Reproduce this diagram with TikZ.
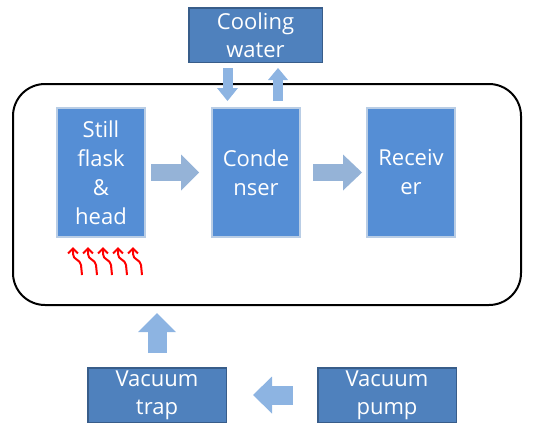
\documentclass[tikz,border=0pt]{standalone}
\usepackage{fontspec}
\setmainfont{Open Sans}
\usepackage{tikz}
\usetikzlibrary{arrows.meta,positioning,calc}
\usepackage{xcolor}
\definecolor{outerblue}{RGB}{79,129,189}
\definecolor{outeredge}{RGB}{56,93,138}
\definecolor{innerblue}{RGB}{85,142,213}
\definecolor{inneredge}{RGB}{185,205,229}
\definecolor{flowgray}{RGB}{149,179,215}
\definecolor{flowblue}{RGB}{141,180,226}

\begin{document}
\begin{tikzpicture}[
  x=1pt, y=-1pt,
  unit/.style={draw=outeredge, fill=outerblue, line width=1.5pt, inner sep=0pt,
    minimum width=138.5pt, minimum height=54.5pt, text=white, align=center,
    font=\fontsize{22}{28}\selectfont},
  part/.style={draw=inneredge, fill=innerblue, line width=2pt, inner sep=0pt,
    minimum width=88pt, minimum height=129pt, text=white, align=center,
    font=\fontsize{22}{29}\selectfont},
  fat/.style n args={3}{line width=#1, -{Triangle[length=#2, width=#3, line width=0pt]}},
  heat/.style={red, line width=2pt, -{Straight Barb[length=5pt, width=10pt]}},
]
\useasboundingbox (0,0) rectangle (540,423);

% Apparatus
\node[draw, line width=2pt, rounded corners=32pt, minimum width=508pt, minimum height=221pt]
  (frame) at (267,194.5) {};
\node[part] (still) at (101,172.5) {Still\\flask\\\&\\head};
\node[part] (cond) at (256,172.5) {Conde\\nser};
\node[part] (recv) at (411,172.5) {Receiv\\er};

% Cooling and vacuum
\node[unit, minimum width=133.5pt] (cool) at (255.5,35) {Cooling\\water};
\node[unit] (trap) at (157,395) {Vacuum\\trap};
\node[unit] (pump) at (387,395) {Vacuum\\pump};

\draw[fat={17.5pt}{18pt}{36pt}, flowgray, shorten <=5pt, shorten >=12pt] (still) -- (cond);
\draw[fat={17.5pt}{19pt}{36pt}, flowgray, shorten <=12pt, shorten >=4pt] (cond) -- (recv);
\draw[fat={10pt}{13pt}{21pt}, flowblue, shorten <=5pt, shorten >=6pt]
  ([xshift=-28pt]cool.south) -- ([xshift=-28pt]cool.south |- cond.north);
\draw[fat={10pt}{12pt}{20pt}, flowblue, shorten <=6pt, shorten >=5pt]
  ([xshift=22.5pt]cool.south |- cond.north) -- ([xshift=22.5pt]cool.south);
\draw[fat={19pt}{19pt}{38pt}, flowblue, shorten <=14pt, shorten >=7pt]
  (trap.north) -- (trap.north |- frame.south);
\draw[fat={19pt}{19pt}{37pt}, flowblue, shorten <=24pt, shorten >=26pt] (pump) -- (trap);

% Heat
\foreach \i in {0,...,4}
  \draw[heat] ({82+15*\i},275) -- ({81+15*\i},265)
    .. controls ({80+15*\i},259) and ({73+15*\i},260) .. ({73+15*\i},254) -- ({73+15*\i},247);
\end{tikzpicture}
\end{document}
